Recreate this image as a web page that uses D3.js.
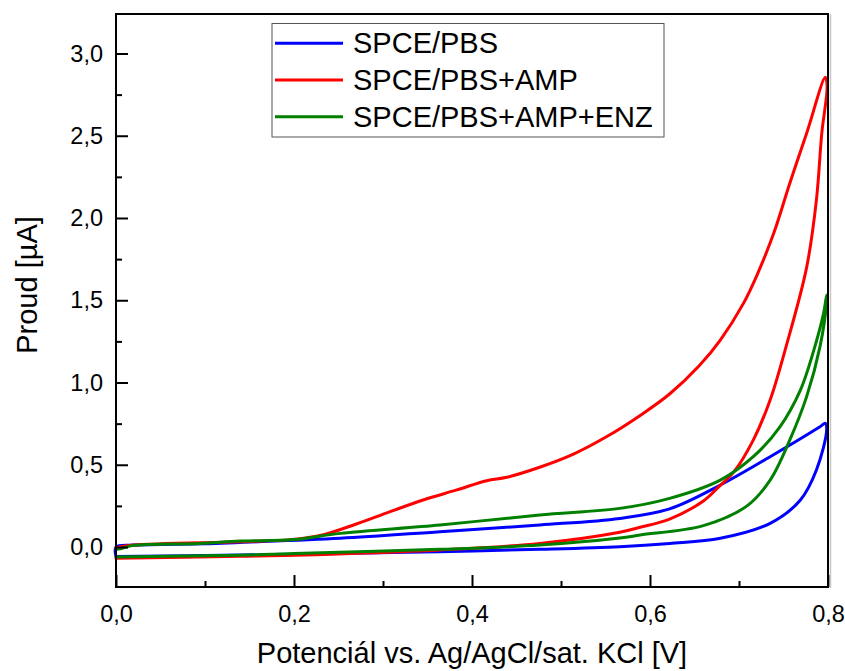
<!DOCTYPE html>
<html>
<head>
<meta charset="utf-8">
<script src="https://cdn.jsdelivr.net/npm/d3@7"></script>
<style>
  html, body { margin: 0; padding: 0; background: #fff; }
  svg { display: block; font-family: "Liberation Sans", Arial, sans-serif; }
</style>
</head>
<body>
<svg id="chart" width="845" height="671"></svg>
<script>
// ---- data (potential V, current µA), forward scan then reverse scan ----
const seriesNames = ["SPCE/PBS", "SPCE/PBS+AMP", "SPCE/PBS+AMP+ENZ"];
const seriesColors = ["#0000ff", "#ff0000", "#008000"];

const spcePbs = [
  [0.0, -0.058], [0.0, 0.0], [0.02, 0.012], [0.1, 0.02], [0.139, 0.028], [0.252, 0.053],
  [0.364, 0.093], [0.476, 0.134], [0.566, 0.174], [0.622, 0.232], [0.679, 0.377],
  [0.735, 0.549], [0.791, 0.731], [0.797, 0.752],
  [0.7985, 0.711], [0.787, 0.468], [0.769, 0.286], [0.735, 0.144], [0.679, 0.053],
  [0.622, 0.022], [0.566, 0.002], [0.476, -0.014], [0.364, -0.028], [0.252, -0.04],
  [0.139, -0.049], [0.0, -0.058]
];
const spcePbsAmp = [
  [0.0, -0.004], [0.02, 0.012], [0.139, 0.032], [0.196, 0.045], [0.233, 0.075],
  [0.270, 0.14], [0.308, 0.215], [0.345, 0.286], [0.383, 0.347], [0.4165, 0.403],
  [0.439, 0.424], [0.476, 0.485], [0.514, 0.565], [0.551, 0.67], [0.589, 0.80],
  [0.622, 0.93], [0.655, 1.1], [0.679, 1.258], [0.705, 1.481], [0.72, 1.65], [0.739, 1.907],
  [0.757, 2.21], [0.776, 2.515], [0.797, 2.855],
  [0.799, 2.8], [0.793, 2.515], [0.787, 2.11], [0.776, 1.70], [0.754, 1.24],
  [0.735, 0.894], [0.716, 0.65], [0.694, 0.455], [0.679, 0.375], [0.660, 0.28],
  [0.622, 0.17], [0.589, 0.12], [0.566, 0.09], [0.476, 0.022], [0.364, -0.018],
  [0.2, -0.05], [0.139, -0.056], [0.0, -0.069]
];
const spcePbsAmpEnz = [
  [0.0, -0.014], [0.005, -0.01], [0.02, 0.01], [0.094, 0.022], [0.139, 0.036],
  [0.2, 0.045], [0.252, 0.083], [0.364, 0.134], [0.476, 0.195], [0.566, 0.235],
  [0.622, 0.296], [0.679, 0.407], [0.716, 0.549], [0.746, 0.731], [0.769, 0.954],
  [0.783, 1.177], [0.795, 1.42], [0.7985, 1.532],
  [0.7985, 1.49], [0.791, 1.218], [0.776, 0.914], [0.757, 0.65], [0.735, 0.407],
  [0.709, 0.25], [0.66, 0.13], [0.589, 0.073], [0.566, 0.055], [0.476, 0.012],
  [0.364, -0.014], [0.2, -0.04], [0.139, -0.05], [0.0, -0.06]
];
const seriesData = [spcePbs, spcePbsAmp, spcePbsAmpEnz];

const xMajorTicks = [0, 0.2, 0.4, 0.6, 0.8];
const xMinorTicks = [0.1, 0.3, 0.5, 0.7];
const yMajorTicks = [0, 0.5, 1.0, 1.5, 2.0, 2.5, 3.0];
const yMinorTicks = [0.25, 0.75, 1.25, 1.75, 2.25, 2.75];
const xTitle = "Potenciál vs. Ag/AgCl/sat. KCl [V]";
const yTitle = "Proud [µA]";

// ---- layout ----
const L = 116, R = 828, T = 14, B = 587;
const svg = d3.select("#chart");
const x = d3.scaleLinear().domain([0, 0.8]).range([L, R]);
const y = d3.scaleLinear().domain([-0.243, 3.24]).range([B, T]);

const loc = d3.formatLocale({decimal: ",", thousands: ".", grouping: [3], currency: ["", ""]});
const fmt = loc.format(".1f");

// curves
const line = d3.line().x(d => x(d[0])).y(d => y(d[1])).curve(d3.curveCatmullRom.alpha(0.5));
svg.append("g").selectAll("path").data(seriesData).join("path")
  .attr("d", d => line(d))
  .attr("fill", "none")
  .attr("stroke", (d, i) => seriesColors[i])
  .attr("stroke-width", 3)
  .attr("stroke-linejoin", "round")
  .attr("stroke-linecap", "round");

// axes
function styleAxis(g) {
  g.select(".domain").remove();
  g.selectAll(".tick line").attr("stroke", "#000").attr("stroke-width", 2);
  g.selectAll(".tick text").attr("fill", "#000").style("font-size", "23.5px")
    .style("font-family", "'Liberation Sans', Arial, sans-serif");
}
svg.append("g").attr("transform", `translate(0,${B})`)
  .call(d3.axisBottom(x).tickValues(xMajorTicks).tickFormat(fmt).tickSize(-12).tickSizeOuter(0).tickPadding(18))
  .call(styleAxis);
svg.append("g").attr("transform", `translate(0,${B})`)
  .call(d3.axisBottom(x).tickValues(xMinorTicks).tickFormat("").tickSize(-6).tickSizeOuter(0))
  .call(styleAxis);
svg.append("g").attr("transform", `translate(${L},0)`)
  .call(d3.axisLeft(y).tickValues(yMajorTicks).tickFormat(fmt).tickSize(-12).tickSizeOuter(0).tickPadding(13))
  .call(styleAxis);
svg.append("g").attr("transform", `translate(${L},0)`)
  .call(d3.axisLeft(y).tickValues(yMinorTicks).tickFormat("").tickSize(-6).tickSizeOuter(0))
  .call(styleAxis);

// frame
svg.append("line").attr("x1", R + 2.5).attr("x2", R + 2.5).attr("y1", T).attr("y2", B + 1)
  .attr("stroke", "#c8c8c8").attr("stroke-width", 1.5);
svg.append("rect").attr("x", L).attr("y", T).attr("width", R - L).attr("height", B - T)
  .attr("fill", "none").attr("stroke", "#000").attr("stroke-width", 2);

// titles
svg.append("text").attr("x", (L + R) / 2).attr("y", 663).attr("text-anchor", "middle")
  .style("font-size", "29px").attr("fill", "#000").text(xTitle);
svg.append("text").attr("transform", "translate(37,285) rotate(-90)").attr("text-anchor", "middle")
  .style("font-size", "29px").attr("fill", "#000").text(yTitle);

// legend
const lg = svg.append("g");
lg.append("rect").attr("x", 272).attr("y", 23.5).attr("width", 392).attr("height", 113.5)
  .attr("fill", "#fff").attr("stroke", "#555").attr("stroke-width", 1);
const rowY = [43.3, 80, 116.7];
seriesNames.forEach((name, i) => {
  lg.append("line").attr("x1", 275).attr("x2", 343).attr("y1", rowY[i]).attr("y2", rowY[i])
    .attr("stroke", seriesColors[i]).attr("stroke-width", 3);
  lg.append("text").attr("x", 353).attr("y", rowY[i] + 10).style("font-size", "29px")
    .attr("fill", "#000").text(name);
});
</script>
</body>
</html>
